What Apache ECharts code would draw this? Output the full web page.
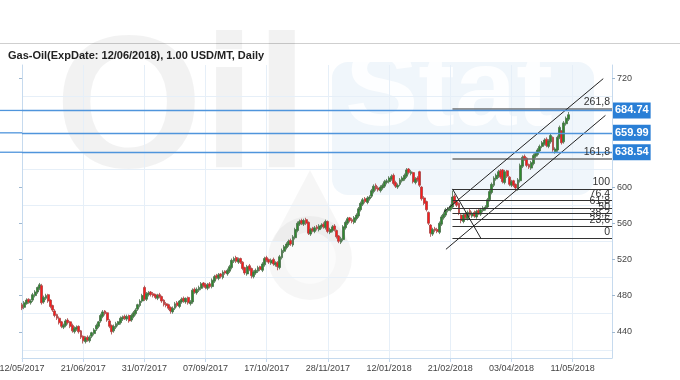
<!DOCTYPE html>
<html>
<head>
<meta charset="utf-8">
<script src="https://cdn.jsdelivr.net/npm/echarts@6/dist/echarts.min.js"></script>
<style>
html,body{margin:0;padding:0;background:#fff;}
#chart{width:680px;height:380px;}
</style>
</head>
<body>
<div id="chart"></div>
<script>
// ---- data ----
const titleText = 'Gas-Oil(ExpDate: 12/06/2018), 1.00 USD/MT, Daily';
const tickLabels = ['12/05/2017','21/06/2017','31/07/2017','07/09/2017','17/10/2017','28/11/2017','12/01/2018','21/02/2018','03/04/2018','11/05/2018'];
const labelStep = 28;      // trading days between date labels
const slotCount = 271;     // bar slots on the time axis (incl. empty future area)
const categories = Array.from({length: slotCount}, (_, i) => String(i));

const opens = [
470,467,471,476,472,475,480,484,488,491, 473,477,481,475,469,463,459,455,451,445,
447,453,451,447,440,443,446,441,435,429, 434,430,435,438,443,446,452,457,463,461,
452,447,441,445,448,450,454,457,454,458, 453,457,460,465,469,474,489,476,481,484,
482,481,477,481,479,475,471,470,467,462, 466,472,468,473,477,473,478,471,473,487,
483,486,488,494,492,488,493,490,496,502, 499,504,500,507,504,507,511,518,522,517,
521,517,511,504,513,510,501,505,507,512, 508,514,522,520,516,520,514,517,511,522,
529,533,536,541,536,544,552,559,563,559, 564,561,548,554,551,556,553,556,559,555,
562,550,552,557,552,546,539,542,555,560, 566,564,561,565,568,575,581,587,583,587,
590,595,602,599,596,599,601,605,606,609, 613,605,600,603,607,609,612,620,615,616,
605,610,617,600,588,584,572,558,548,554, 553,550,559,566,569,574,575,578,590,584,
582,569,562,570,565,574,568,572,567,574, 570,574,576,578,586,594,602,609,612,618,
619,605,618,611,602,607,603,598,607,623, 634,632,625,621,626,634,636,640,645,648,
653,645,650,655,639,641,655,662,650,670, 675
];
const closes = [
466,472,475,473,474,481,484,489,492,472, 478,480,474,468,464,458,455,450,446,447,
452,450,446,441,444,445,440,434,430,433, 431,434,439,442,447,451,458,462,460,453,
446,440,446,449,451,455,456,455,457,452, 458,461,464,470,474,480,476,482,483,481,
480,478,480,479,474,470,469,466,463,466, 471,469,474,476,474,477,472,473,486,484,
487,489,493,491,489,492,490,497,501,500, 503,501,506,505,508,512,519,521,518,520,
517,510,505,512,509,502,506,508,511,509, 515,521,519,517,519,515,516,512,523,530,
534,537,540,537,545,553,560,562,560,563, 560,549,553,552,555,554,557,558,556,562,
551,553,556,553,545,540,543,556,561,565, 563,562,566,569,576,582,586,584,588,589,
596,601,598,597,600,602,606,607,610,612, 604,601,602,608,610,613,619,616,617,606,
609,608,602,587,582,575,560,549,553,552, 551,560,567,570,575,576,579,589,583,580,
571,563,569,566,572,569,571,568,573,571, 575,577,578,586,595,603,610,613,617,611,
606,617,612,603,606,602,599,608,624,633, 631,624,622,627,635,637,641,645,649,652,
646,651,657,641,642,655,666,649,671,676, 680
];
const highs = [
472,474,477,477,476,483,486,490,494,493, 480,482,482,476,470,465,460,457,452,449,
454,455,452,449,446,447,447,442,436,435, 436,436,440,444,449,452,460,464,464,462,
454,448,448,451,452,457,458,459,459,459, 460,463,466,471,476,482,491,484,485,485,
484,482,482,483,480,476,473,471,468,468, 473,474,475,478,479,478,479,475,488,489,
489,491,495,495,494,494,495,499,503,504, 505,505,508,508,510,514,521,523,524,522,
522,518,512,514,515,511,508,510,513,513, 517,523,524,521,521,522,518,518,525,532,
536,539,542,543,547,555,562,564,565,565, 566,562,555,556,557,558,559,560,561,564,
563,555,558,559,553,547,545,558,563,567, 567,566,568,571,578,584,588,589,590,591,
598,603,604,601,602,604,608,609,612,614, 615,607,604,610,612,615,621,621,619,617,
611,612,618,601,590,585,573,559,555,556, 555,562,569,572,577,578,581,596,592,585,
583,570,571,572,574,576,573,574,575,576, 577,579,580,588,597,605,612,615,619,620,
620,619,619,612,608,608,604,610,626,635, 636,633,626,629,637,639,643,647,651,654,
655,653,659,656,644,657,668,663,673,678, 683
];
const lows = [
464,465,470,471,470,473,478,482,486,470, 471,475,472,466,462,456,453,448,444,443,
445,448,444,439,438,441,438,432,427,427, 429,428,433,436,441,444,450,455,458,451,
444,437,439,443,446,448,452,453,452,450, 451,455,458,463,467,472,474,474,479,479,
478,476,475,477,472,468,467,464,460,460, 464,467,466,471,472,471,470,469,471,482,
481,484,486,489,487,486,488,488,494,498, 497,499,498,503,502,505,509,516,516,515,
515,508,503,502,507,499,499,503,505,507, 506,512,517,515,514,513,512,508,509,520,
527,531,534,535,534,542,550,557,558,557, 558,547,546,550,549,552,551,554,554,553,
549,548,550,551,543,538,537,540,553,558, 561,560,559,563,566,573,579,582,581,585,
588,593,596,595,594,597,599,603,604,607, 602,599,598,601,605,607,610,614,613,604,
603,606,600,585,580,573,558,545,546,550, 549,548,557,564,567,572,573,576,581,578,
569,560,560,564,563,567,566,566,565,569, 568,572,574,576,584,592,600,607,610,609,
604,603,610,601,600,600,596,596,605,621, 629,622,620,619,624,632,634,638,643,646,
644,643,648,639,637,639,653,647,648,668, 673
];

// y axis ticks / labels / grid lines
const yLabelValues = [440, 480, 520, 560, 600, 720];
const yGridValues = [420, 460, 500, 540, 580, 620, 660, 700];
const yMin = 411, yMax = 735;

// horizontal price levels with value boxes
const priceLevels = [684.74, 659.99, 638.54];

// Fibonacci retracement / extension
const fibLevels = [0, 23.6, 38.2, 50, 61.8, 76.4, 100, 161.8, 261.8];
const fibLabels = ['0', '23,6', '38,2', '50', '61,8', '76,4', '100', '161,8', '261,8'];
const fibLow = 543.3, fibHigh = 598.0;
const fibStartBar = 197, fibEndBar = 270, fibDiagEndBar = 210;

// trend channel
const channelUpper = [[193, 572.5], [266, 719.9]];
const channelLower = [[194, 531.2], [267, 679.3]];

// ---- chart ----
const chart = echarts.init(document.getElementById('chart'), null, {renderer: 'canvas'});
const FONT = "'Liberation Sans', Arial, sans-serif";
const axisBlue = '#c6daee';
const gridBlue = '#e6eff8';
const levelBlue = '#4f95dc';

const candleData = closes.map((c, i) => [opens[i], c, lows[i], highs[i]]);

const markLines = [];
fibLevels.forEach((lv, k) => {
  const v = fibLow + (fibHigh - fibLow) * lv / 100;
  const ext = lv > 100;
  markLines.push([
    {coord: [fibStartBar, v],
     lineStyle: {color: ext ? '#707070' : '#333', width: ext ? 1.5 : 1, type: 'solid'},
     label: {show: true, position: 'insideEndTop', formatter: fibLabels[k], color: '#333',
             fontSize: 10.5, fontFamily: FONT, distance: 1, padding: [0, 1, 0, 0]}},
    {coord: [fibEndBar, v]}
  ]);
});
markLines.push([
  {coord: [fibStartBar, fibHigh], lineStyle: {color: '#222', width: 1, type: 'solid'}, label: {show: false}},
  {coord: [fibDiagEndBar, fibLow]}
]);
[channelUpper, channelLower].forEach(ch => {
  markLines.push([
    {coord: ch[0], lineStyle: {color: '#222', width: 1, type: 'solid'}, label: {show: false}},
    {coord: ch[1]}
  ]);
});
priceLevels.forEach(v => {
  markLines.push({
    yAxis: v,
    lineStyle: {color: levelBlue, width: 1.3, type: 'solid'},
    label: {show: true, position: 'end', distance: 1, formatter: v.toFixed(2),
            color: '#fff', backgroundColor: '#2a7fd6', fontSize: 11, fontWeight: 'bold',
            fontFamily: FONT, padding: [2, 2, 1, 2], lineHeight: 13}
  });
});

const option = {
  animation: false,
  backgroundColor: '#fff',
  title: {
    text: titleText, left: 3, top: 45,
    textStyle: {fontSize: 11, fontWeight: 'bold', color: '#222', fontFamily: FONT}
  },
  grid: {left: 22, right: 68, top: 65, bottom: 22, containLabel: false, outerBoundsMode: 'none'},
  xAxis: {
    type: 'category', data: categories, boundaryGap: false,
    axisLine: {show: true, lineStyle: {color: axisBlue}},
    axisTick: {show: true, interval: labelStep - 1, length: 4, lineStyle: {color: axisBlue}},
    axisLabel: {interval: labelStep - 1, margin: 6, fontSize: 9, color: '#444', fontFamily: FONT,
      formatter: (val, idx) => (idx % labelStep === 0 ? (tickLabels[idx / labelStep] || '') : '')},
    splitLine: {show: true, interval: labelStep - 1, lineStyle: {color: gridBlue}}
  },
  yAxis: [
    {type: 'value', position: 'right', min: yMin, max: yMax, scale: true,
     axisLine: {show: true, lineStyle: {color: axisBlue}},
     axisTick: {show: true, length: 3, customValues: yLabelValues, lineStyle: {color: '#9fb8d0'}},
     axisLabel: {customValues: yLabelValues, margin: 5, fontSize: 9, color: '#444', fontFamily: FONT},
     splitLine: {show: false}},
    {type: 'value', position: 'left', min: yMin, max: yMax, scale: true,
     axisLine: {show: true, lineStyle: {color: axisBlue}},
     axisTick: {show: true, length: 3, customValues: yLabelValues, lineStyle: {color: '#9fb8d0'}},
     axisLabel: {show: false}, splitLine: {show: false}},
    {type: 'value', position: 'left', min: yMin, max: yMax, scale: true,
     axisLine: {show: false}, axisTick: {show: false, customValues: yGridValues},
     axisLabel: {show: false}, splitLine: {show: true, lineStyle: {color: gridBlue}}}
  ],
  series: [{
    type: 'candlestick', data: candleData, yAxisIndex: 0, barWidth: 2.4,
    itemStyle: {color: '#2f8a2f', color0: '#ff1a1a', borderColor: '#4a6e4a', borderColor0: '#a84444', borderWidth: 0.8},
    markLine: {silent: true, symbol: ['none', 'none'], animation: false, data: markLines},
    z: 3
  }]
};
chart.setOption(option);

// background watermark, page separator and left extensions of the level lines
const gridLeft = 22;
const WM = "'Liberation Sans', Arial, sans-serif";
const graphics = [
  {type: 'line', shape: {x1: 0, y1: 43.5, x2: 680, y2: 43.5}, style: {stroke: '#cfcfcf', lineWidth: 1}, z: -10, silent: true},
  {type: 'text', x: 55, y: 210, style: {text: 'Oil', font: 'bold 190px ' + WM, fill: 'rgba(0,0,0,0.05)', textVerticalAlign: 'bottom'}, z: -10, silent: true},
  {type: 'rect', shape: {x: 332, y: 62, width: 262, height: 133, r: 16}, style: {fill: 'rgba(91,155,213,0.09)'}, z: -10, silent: true},
  {type: 'text', x: 345, y: 150, style: {text: 'Stat', font: 'bold 110px ' + WM, fill: 'rgba(255,255,255,0.85)', textVerticalAlign: 'bottom'}, z: -9, silent: true},
  {type: 'circle', shape: {cx: 310, cy: 258, r: 42}, style: {fill: 'rgba(0,0,0,0.035)'}, z: -10, silent: true},
  {type: 'polygon', shape: {points: [[310, 170], [272, 242], [348, 242]]}, style: {fill: 'rgba(0,0,0,0.035)'}, z: -10, silent: true},
  {type: 'circle', shape: {cx: 310, cy: 258, r: 26}, style: {fill: 'rgba(255,255,255,0.5)'}, z: -9, silent: true}
];
priceLevels.forEach(v => {
  const py = chart.convertToPixel({yAxisIndex: 0}, v);
  graphics.push({type: 'line', shape: {x1: 0, y1: py, x2: gridLeft, y2: py}, style: {stroke: levelBlue, lineWidth: 1.3}, z: 5, silent: true});
});
chart.setOption({graphic: graphics});
</script>
</body>
</html>
